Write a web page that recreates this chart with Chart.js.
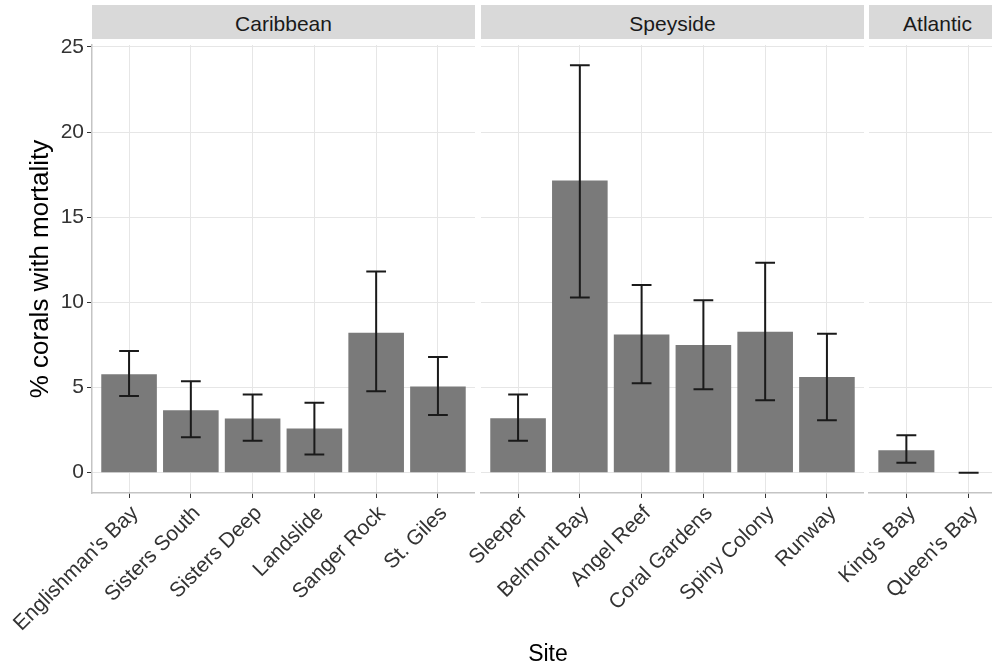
<!DOCTYPE html>
<html>
<head>
<meta charset="utf-8">
<script src="https://cdn.jsdelivr.net/npm/chart.js@4"></script>
<style>
  html, body { margin:0; padding:0; width:992px; height:665px; overflow:hidden; background:#fff; }
  body { position:relative; font-family:"Liberation Sans", Arial, sans-serif; }
  canvas { position:absolute; top:0; }
  .strip { position:absolute; top:5px; height:33.5px; box-sizing:border-box; padding-top:4px;
           line-height:29px; background:#d9d9d9; color:#1a1a1a; font-size:21px; text-align:center; white-space:nowrap; overflow:hidden; }
  .xtitle { position:absolute; left:448px; width:200px; top:638px; line-height:30px; text-align:center; font-size:23px; color:#000; }
</style>
</head>
<body>
<div class="strip" style="left:92px;width:383px;">Caribbean</div>
<div class="strip" style="left:481px;width:383px;">Speyside</div>
<div class="strip" style="left:869px;width:137px;">Atlantic</div>
<canvas id="c1" width="475" height="665" style="left:0px"></canvas>
<canvas id="c2" width="473" height="665" style="left:391px"></canvas>
<canvas id="c3" width="227" height="665" style="left:779px"></canvas>
<div class="xtitle">Site</div>
<script>
// ---- data ----
const carSites = ["Englishman's Bay", "Sisters South", "Sisters Deep", "Landslide", "Sanger Rock", "St. Giles"];
const carMean  = [5.78, 3.67, 3.18, 2.59, 8.22, 5.06];
const carLow   = [4.50, 2.08, 1.87, 1.07, 4.78, 3.39];
const carHigh  = [7.14, 5.37, 4.59, 4.10, 11.82, 6.79];

const speSites = ["Sleeper", "Belmont Bay", "Angel Reef", "Coral Gardens", "Spiny Colony", "Runway"];
const speMean  = [3.20, 17.16, 8.12, 7.50, 8.28, 5.62];
const speLow   = [1.87, 10.29, 5.25, 4.90, 4.25, 3.08];
const speHigh  = [4.59, 23.92, 11.02, 10.12, 12.33, 8.16];

const atlSites = ["King's Bay", "Queen's Bay"];
const atlMean  = [1.32, 0];
const atlLow   = [0.58, 0];
const atlHigh  = [2.20, 0];

const yTicks = [0, 5, 10, 15, 20, 25];
const yTitle = "% corals with mortality";

// ---- scale range (ggplot-like 5% expansion) ----
const allHigh = carHigh.concat(speHigh, atlHigh);
const dataMax = Math.max(...allHigh);
const yPad = dataMax * 0.05;
const yMin = -yPad, yMax = dataMax + yPad;

const FONT = '"Liberation Sans", Arial, sans-serif';
const GRID = '#e6e6e6';
const AXISLINE = '#c4c4c4';
const TICKCOL = '#333333';

const errorBars = {
  id: 'errorBars',
  afterDatasetsDraw(chart, args, opts) {
    const ctx = chart.ctx;
    const xs = chart.scales.x, ys = chart.scales.y;
    const lo = opts.low, hi = opts.high;
    ctx.save();
    ctx.strokeStyle = '#1a1a1a';
    ctx.lineWidth = 2;
    for (let i = 0; i < lo.length; i++) {
      const x = xs.getPixelForValue(i);
      const hw = xs.getPixelForValue(i + 0.16) - x;
      const y1 = ys.getPixelForValue(lo[i]);
      const y2 = ys.getPixelForValue(hi[i]);
      ctx.beginPath();
      ctx.moveTo(x, y1); ctx.lineTo(x, y2);
      ctx.moveTo(x - hw, y1); ctx.lineTo(x + hw, y1);
      ctx.moveTo(x - hw, y2); ctx.lineTo(x + hw, y2);
      ctx.stroke();
    }
    ctx.restore();
  }
};

function makeChart(id, sites, mean, low, high, first) {
  const n = sites.length;
  return new Chart(document.getElementById(id), {
    type: 'bar',
    data: {
      datasets: [{
        data: mean.map((v, i) => ({ x: i, y: v })),
        backgroundColor: '#7a7a7a',
        borderWidth: 0,
        barPercentage: 0.9,
        categoryPercentage: 1.0
      }]
    },
    options: {
      responsive: false,
      animation: false,
      devicePixelRatio: 1,
      layout: { padding: { top: 45, left: first ? 0 : 90, right: 0, bottom: 0 } },
      plugins: {
        legend: { display: false },
        tooltip: { enabled: false },
        errorBars: { low: low, high: high }
      },
      scales: {
        x: {
          type: 'linear',
          offset: false,
          bounds: 'data',
          min: -0.6,
          max: n - 1 + 0.6,
          afterBuildTicks: s => { s.ticks = sites.map((_, i) => ({ value: i })); },
          afterFit: s => { s.height = 172; s.paddingLeft = 0; s.paddingRight = 0; },
          ticks: {
            autoSkip: false,
            maxRotation: 45,
            minRotation: 45,
            padding: 3,
            labelOffset: 6,
            color: '#333333',
            font: { family: FONT, size: 21 },
            callback: v => sites[v]
          },
          grid: { color: GRID, lineWidth: 1, tickColor: TICKCOL, tickLength: 5, offset: false },
          border: { display: true, color: AXISLINE, width: 1.5 }
        },
        y: {
          min: yMin,
          max: yMax,
          afterBuildTicks: s => { s.ticks = yTicks.map(v => ({ value: v })); },
          afterFit: s => { s.width = first ? 92 : 0; s.paddingTop = 0; s.paddingBottom = 0; },
          ticks: {
            display: first,
            padding: 3,
            color: '#333333',
            font: { family: FONT, size: 21 }
          },
          grid: { color: GRID, lineWidth: 1, tickColor: TICKCOL, tickLength: 5, drawTicks: first },
          border: { display: first, color: AXISLINE, width: 1.5 },
          title: {
            display: first,
            text: yTitle,
            color: '#000',
            font: { family: FONT, size: 26 },
            padding: { top: 25, bottom: 0 }
          }
        }
      }
    },
    plugins: [errorBars]
  });
}

makeChart('c1', carSites, carMean, carLow, carHigh, true);
makeChart('c2', speSites, speMean, speLow, speHigh, false);
makeChart('c3', atlSites, atlMean, atlLow, atlHigh, false);
</script>
</body>
</html>
